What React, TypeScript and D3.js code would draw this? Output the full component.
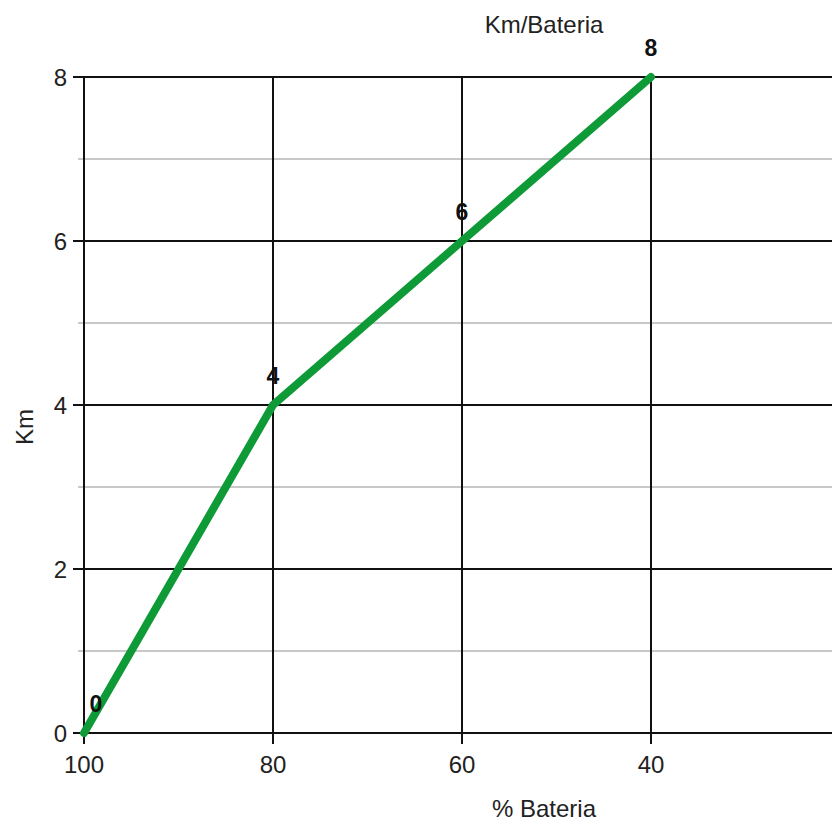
import * as d3 from 'd3';

// battery % on the x axis, km on the y axis
const battery = [100, 80, 60, 40];
const km = [0, 4, 6, 8];
const xTicks = [100, 80, 60, 40];
const yMajor = [0, 2, 4, 6, 8];
const yMinor = [1, 3, 5, 7];

const WIDTH = 832;
const HEIGHT = 822;
const MARGIN = { top: 77, left: 84, bottom: 89 };
const GREEN = '#0e9a36';
const FONT = 'Arial, "Liberation Sans", sans-serif';

export default function App() {
  const x = d3.scaleLinear().domain([100, 20]).range([MARGIN.left, 840]);
  const y = d3.scaleLinear().domain([0, 8]).range([HEIGHT - MARGIN.bottom, MARGIN.top]);
  const pts = battery.map((b, i) => ({ b, k: km[i] }));

  const line = d3
    .line<{ b: number; k: number }>()
    .x((d) => x(d.b))
    .y((d) => y(d.k));

  const y0 = y(0);

  return (
    <svg
      width={WIDTH}
      height={HEIGHT}
      style={{ position: 'absolute', left: 0, top: 0, background: '#fff' }}
      fontFamily={FONT}
    >
      {/* minor gridlines */}
      {yMinor.map((v) => (
        <line key={'mn' + v} x1={MARGIN.left - 6} x2={WIDTH} y1={y(v)} y2={y(v)} stroke="#c8c8c8" strokeWidth={2} />
      ))}
      {/* major horizontal gridlines + ticks */}
      {yMajor.map((v) => (
        <g key={'mj' + v}>
          <line x1={MARGIN.left - 11} x2={WIDTH} y1={y(v)} y2={y(v)} stroke="#111" strokeWidth={2} />
          <text x={67} y={y(v)} dy="0.36em" textAnchor="end" fontSize={24} fill="#222">
            {v}
          </text>
        </g>
      ))}
      {/* vertical gridlines + ticks */}
      {xTicks.map((v) => (
        <g key={'x' + v}>
          <line x1={x(v)} x2={x(v)} y1={y(8)} y2={y0 + 11} stroke="#111" strokeWidth={2} />
          <text x={x(v)} y={y0 + 40} textAnchor="middle" fontSize={24} fill="#222">
            {v}
          </text>
        </g>
      ))}

      <path d={line(pts) ?? ''} fill="none" stroke={GREEN} strokeWidth={8} strokeLinejoin="round" strokeLinecap="round" />

      {/* data labels */}
      {pts.map((d) => (
        <text
          key={'l' + d.b}
          x={Math.max(x(d.b), MARGIN.left + 12)}
          y={y(d.k) - 21}
          textAnchor="middle"
          fontSize={23}
          fontWeight="bold"
          fill="#111"
        >
          {d.k}
        </text>
      ))}

      <text x={544} y={33} textAnchor="middle" fontSize={24} fill="#222">
        Km/Bateria
      </text>
      <text x={544} y={817} textAnchor="middle" fontSize={24} fill="#222">
        % Bateria
      </text>
      <text transform={`translate(33,427) rotate(-90)`} textAnchor="middle" fontSize={24} fill="#222">
        Km
      </text>
    </svg>
  );
}
